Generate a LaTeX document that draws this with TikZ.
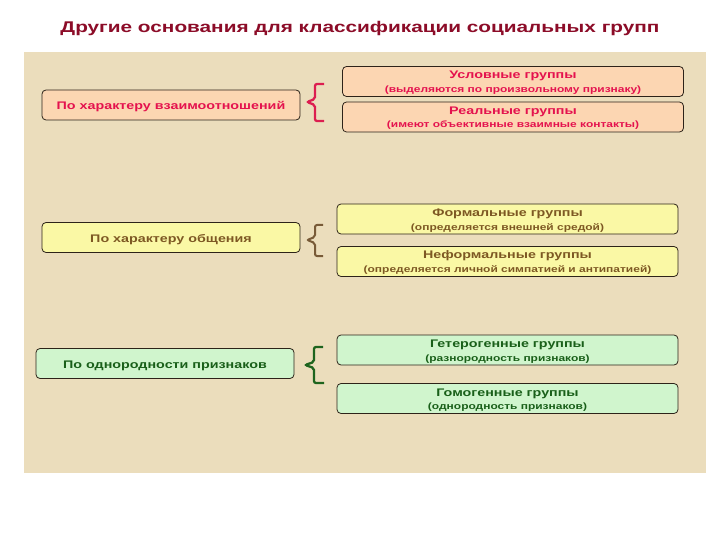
\documentclass[tikz,border=0pt]{standalone}
\usepackage{graphicx}
\usepackage{fontspec}
\setmainfont{Liberation Sans}
\definecolor{titlec}{RGB}{140,12,40}
\definecolor{parch}{RGB}{235,221,188}
\definecolor{boxline}{RGB}{45,35,25}
\definecolor{peach}{RGB}{252,214,178}
\definecolor{pinktxt}{RGB}{228,18,78}
\definecolor{yellowf}{RGB}{250,248,165}
\definecolor{browntxt}{RGB}{125,88,35}
\definecolor{greenf}{RGB}{208,245,205}
\definecolor{greentxt}{RGB}{25,95,25}
\definecolor{bracebrown}{RGB}{120,90,55}
\definecolor{bracegreen}{RGB}{30,100,30}
\definecolor{bracepink}{RGB}{220,30,80}
\newcommand{\wide}[1]{\scalebox{1.3}[1]{#1}}
\newcommand{\twolines}[2]{\rule{0pt}{11pt}\wide{#1}\\[0.5pt]{\fontsize{9.2}{13}\selectfont\rule[-2.5pt]{0pt}{2.5pt}\wide{#2}}}
\begin{document}
\begin{tikzpicture}[x=1pt,y=-1pt,
  box/.style={draw=boxline, line width=0.8pt, rounded corners=4pt, inner sep=0pt, align=center, font=\bfseries\fontsize{11}{13}\selectfont},
  leftbox/.style={box, minimum width=258pt, minimum height=30pt, text height=11pt, text depth=2pt},
  rightbox/.style={box, minimum width=341pt, minimum height=30pt},
  bracestyle/.style={line width=2.3pt, rounded corners=2pt}
]
\useasboundingbox (0,0) rectangle (720,540);
\fill[white] (0,0) rectangle (720,540);
\fill[parch] (24,52) rectangle (706,473);
\node[text=titlec, font=\bfseries\fontsize{15.5}{18}\selectfont, inner sep=0pt, text height=11pt, text depth=0pt] (title) at (360,27.2) {\scalebox{1.34}[1]{Другие основания для классификации социальных групп}};

% row 1
\node[leftbox, fill=peach, text=pinktxt] (l1) at (171,105) {\wide{По характеру взаимоотношений}};
\node[rightbox, fill=peach, text=pinktxt] (r1) at (513,81.5) {\twolines{Условные группы}{(выделяются по произвольному признаку)}};
\node[rightbox, fill=peach, text=pinktxt] (r2) at (513,117) {\twolines{Реальные группы}{(имеют объективные взаимные контакты)}};
\draw[bracestyle, draw=bracepink] (324,84) -- (315,84) -- (315,99) -- (307,102) -- (315,105) -- (315,121) -- (324,121);

% row 2
\node[leftbox, fill=yellowf, text=browntxt] (l2) at (171,237.5) {\wide{По характеру общения}};
\node[rightbox, fill=yellowf, text=browntxt] (r3) at (507.5,219) {\twolines{Формальные группы}{(определяется внешней средой)}};
\node[rightbox, fill=yellowf, text=browntxt] (r4) at (507.5,261.5) {\twolines{Неформальные группы}{(определяется личной симпатией и антипатией)}};
\draw[bracestyle, line width=2pt, draw=bracebrown] (323,225) -- (315,225) -- (315,237) -- (307,240) -- (315,243) -- (315,256) -- (323,256);

% row 3
\node[leftbox, fill=greenf, text=greentxt] (l3) at (165,363.5) {\wide{По однородности признаков}};
\node[rightbox, fill=greenf, text=greentxt] (r5) at (507.5,350) {\twolines{Гетерогенные группы}{(разнородность признаков)}};
\node[rightbox, fill=greenf, text=greentxt] (r6) at (507.5,398.5) {\twolines{Гомогенные группы}{(однородность признаков)}};
\draw[bracestyle, draw=bracegreen] (323,347) -- (314,347) -- (314,362) -- (305,365) -- (314,368) -- (314,383) -- (324,383);
\end{tikzpicture}
\end{document}
